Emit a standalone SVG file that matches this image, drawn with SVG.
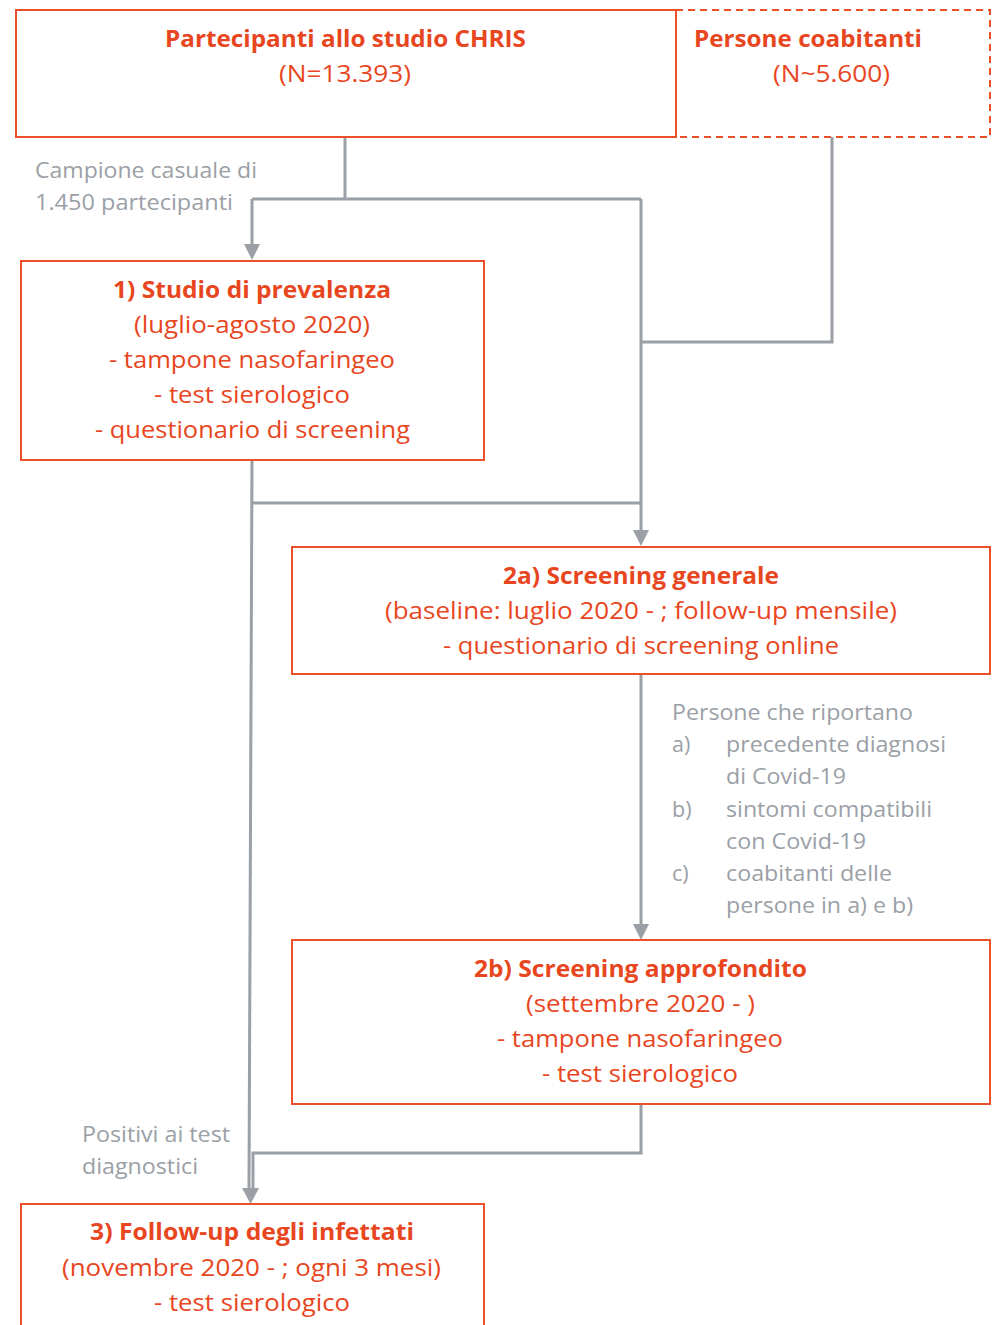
<svg xmlns="http://www.w3.org/2000/svg" width="1000" height="1325" viewBox="0 0 1000 1325">
<style>
.box{fill:#fff;stroke:#e9502a;stroke-width:2}
.dash{fill:none;stroke:#e9502a;stroke-width:2;stroke-dasharray:7 5}
.t{font-family:"Open Sans","Noto Sans",sans-serif;font-size:23px;fill:#e8461e;text-anchor:middle}
.b{font-weight:bold}
.g{font-family:"Open Sans","Noto Sans",sans-serif;font-size:21.5px;fill:#9aa0a6}
.ln{fill:none;stroke:#9aa0a6;stroke-width:3}
.ah{fill:#9aa0a6}
</style>
<g id="connectors">
<path class="ln" d="M345,137 V199"/>
<path class="ln" d="M252,199 H641"/>
<path class="ln" d="M252,199 V244"/>
<path class="ah" d="M244,244 L260,244 L252,260 Z"/>
<path class="ln" d="M641,199 V530"/>
<path class="ah" d="M633,530 L649,530 L641,546 Z"/>
<path class="ln" d="M832,137 V342 H641"/>
<path class="ln" d="M252,460 L249,1188"/>
<path class="ln" d="M251,503 H641"/>
<path class="ln" d="M641,674 V924"/>
<path class="ah" d="M633,924 L649,924 L641,940 Z"/>
<path class="ln" d="M641,1104 V1153 H253 V1188"/>
<path class="ah" d="M242,1188 L259,1188 L250.5,1204 Z"/>
</g>
<g id="node-chris">
<rect class="box" x="16" y="10" width="660" height="127"/>
<text class="t b" x="345.5" y="47" textLength="361" lengthAdjust="spacingAndGlyphs">Partecipanti allo studio CHRIS</text>
<text class="t" x="345" y="82" textLength="132" lengthAdjust="spacingAndGlyphs">(N=13.393)</text>
</g>
<g id="node-coabitanti">
<path class="dash" d="M676,10 H990 V137 H676"/>
<text class="t b" x="808" y="47" textLength="228" lengthAdjust="spacingAndGlyphs">Persone coabitanti</text>
<text class="t" x="831.5" y="82" textLength="117" lengthAdjust="spacingAndGlyphs">(N~5.600)</text>
</g>
<g id="label-campione">
<text class="g" x="35" y="178" textLength="222" lengthAdjust="spacingAndGlyphs">Campione casuale di</text>
<text class="g" x="35" y="210" textLength="198" lengthAdjust="spacingAndGlyphs">1.450 partecipanti</text>
</g>
<g id="node-1">
<rect class="box" x="21" y="261" width="463" height="199"/>
<text class="t b" x="252" y="298" textLength="278" lengthAdjust="spacingAndGlyphs">1) Studio di prevalenza</text>
<text class="t" x="252" y="333" textLength="236" lengthAdjust="spacingAndGlyphs">(luglio-agosto 2020)</text>
<text class="t" x="252" y="368" textLength="286" lengthAdjust="spacingAndGlyphs">- tampone nasofaringeo</text>
<text class="t" x="252" y="403" textLength="196" lengthAdjust="spacingAndGlyphs">- test sierologico</text>
<text class="t" x="252.5" y="438" textLength="315" lengthAdjust="spacingAndGlyphs">- questionario di screening</text>
</g>
<g id="node-2a">
<rect class="box" x="292" y="547" width="698" height="127"/>
<text class="t b" x="641" y="584" textLength="276" lengthAdjust="spacingAndGlyphs">2a) Screening generale</text>
<text class="t" x="641" y="619" textLength="512" lengthAdjust="spacingAndGlyphs">(baseline: luglio 2020 - ; follow-up mensile)</text>
<text class="t" x="641" y="654" textLength="396" lengthAdjust="spacingAndGlyphs">- questionario di screening online</text>
</g>
<g id="label-persone">
<text class="g" x="672" y="720" textLength="241" lengthAdjust="spacingAndGlyphs">Persone che riportano</text>
<text class="g" x="672" y="752">a)</text>
<text class="g" x="726" y="752" textLength="220" lengthAdjust="spacingAndGlyphs">precedente diagnosi</text>
<text class="g" x="726" y="784" textLength="120" lengthAdjust="spacingAndGlyphs">di Covid-19</text>
<text class="g" x="672" y="817">b)</text>
<text class="g" x="726" y="817" textLength="206" lengthAdjust="spacingAndGlyphs">sintomi compatibili</text>
<text class="g" x="726" y="849" textLength="140" lengthAdjust="spacingAndGlyphs">con Covid-19</text>
<text class="g" x="672" y="881">c)</text>
<text class="g" x="726" y="881" textLength="166" lengthAdjust="spacingAndGlyphs">coabitanti delle</text>
<text class="g" x="726" y="913" textLength="187" lengthAdjust="spacingAndGlyphs">persone in a) e b)</text>
</g>
<g id="node-2b">
<rect class="box" x="292" y="940" width="698" height="164"/>
<text class="t b" x="640.5" y="977" textLength="333" lengthAdjust="spacingAndGlyphs">2b) Screening approfondito</text>
<text class="t" x="640.5" y="1012" textLength="229" lengthAdjust="spacingAndGlyphs">(settembre 2020 - )</text>
<text class="t" x="640" y="1047" textLength="286" lengthAdjust="spacingAndGlyphs">- tampone nasofaringeo</text>
<text class="t" x="640" y="1082" textLength="196" lengthAdjust="spacingAndGlyphs">- test sierologico</text>
</g>
<g id="label-positivi">
<text class="g" x="82" y="1142" textLength="148" lengthAdjust="spacingAndGlyphs">Positivi ai test</text>
<text class="g" x="82" y="1174" textLength="116" lengthAdjust="spacingAndGlyphs">diagnostici</text>
</g>
<g id="node-3">
<rect class="box" x="21" y="1204" width="463" height="140"/>
<text class="t b" x="252" y="1240" textLength="324" lengthAdjust="spacingAndGlyphs">3) Follow-up degli infettati</text>
<text class="t" x="251.5" y="1276" textLength="379" lengthAdjust="spacingAndGlyphs">(novembre 2020 - ; ogni 3 mesi)</text>
<text class="t" x="252" y="1311" textLength="196" lengthAdjust="spacingAndGlyphs">- test sierologico</text>
</g>
</svg>
